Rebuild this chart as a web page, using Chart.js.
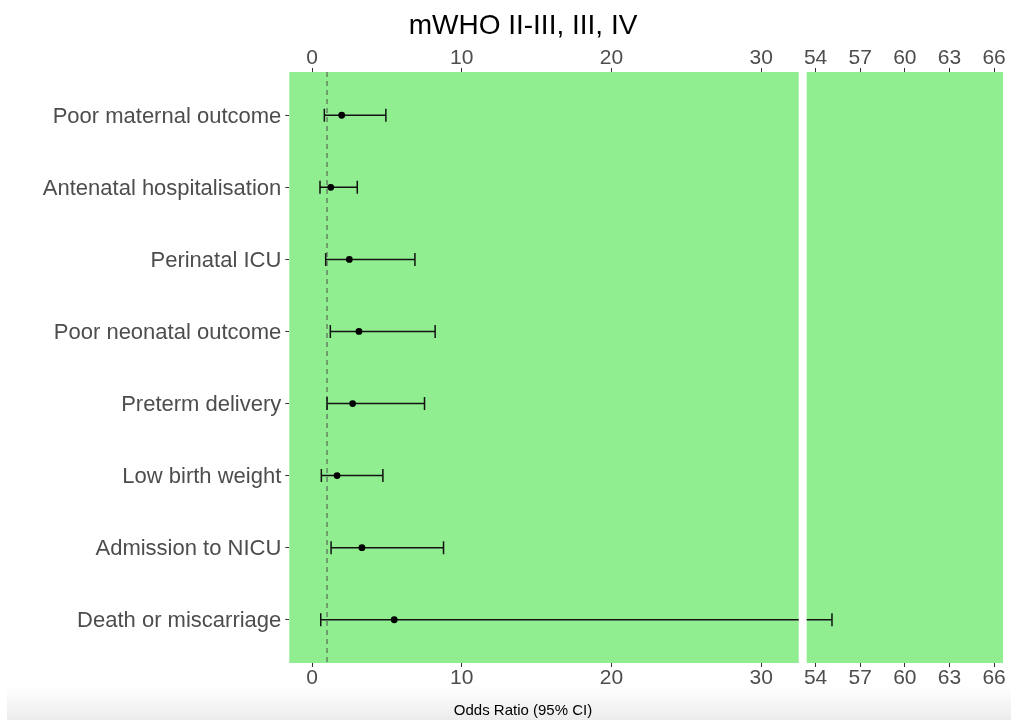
<!DOCTYPE html>
<html>
<head>
<meta charset="utf-8">
<script src="https://cdn.jsdelivr.net/npm/chart.js@4.4.1/dist/chart.umd.min.js"></script>
<style>
html,body{margin:0;padding:0;background:#fff;overflow:hidden;width:1011px;height:720px}
#wrap{position:relative;width:1011px;height:720px;overflow:hidden}
#lbox{position:absolute;left:0;top:0;width:1046px;height:720px}
#rbox{position:absolute;left:790px;top:0;width:221px;height:720px;z-index:2}
</style>
</head>
<body>
<div id="wrap">
<div id="lbox"><canvas id="left" width="1046" height="720"></canvas></div>
<div id="rbox"><canvas id="right" width="221" height="720"></canvas></div>
</div>
<script>
// ---- data ----
const categories = [
  "Poor maternal outcome",
  "Antenatal hospitalisation",
  "Perinatal ICU",
  "Poor neonatal outcome",
  "Preterm delivery",
  "Low birth weight",
  "Admission to NICU",
  "Death or miscarriage"
];
const oddsRatio = [1.98, 1.25, 2.49, 3.13, 2.71, 1.67, 3.33, 5.49];
const ciLower   = [0.82, 0.53, 0.91, 1.22, 1.00, 0.62, 1.27, 0.58];
const ciUpper   = [4.93, 3.02, 6.87, 8.22, 7.51, 4.73, 8.78, 55.1];
const refValue  = 1;
const leftTicks  = [0, 10, 20, 30];
const rightTicks = [54, 57, 60, 63, 66];
const leftRange  = [-1.52, 32.5];
const rightRange = [53.4, 66.6];
const yRange     = [-0.6, 7.6];
const titleText  = "mWHO II-III, III, IV";
const xTitleText = "Odds Ratio (95% CI)";

Chart.defaults.font.family = "'Liberation Sans', Arial, Helvetica, sans-serif";

function buildDatasets() {
  const ds = [];
  ds.push({
    type: 'line', xAxisID: 'x', yAxisID: 'y', order: 4,
    data: [{x: refValue, y: yRange[0]}, {x: refValue, y: yRange[1]}],
    borderColor: '#4d4d4d', borderWidth: 1, borderDash: [5, 4],
    pointRadius: 0, fill: false
  });
  categories.forEach((c, i) => {
    ds.push({
      type: 'line', xAxisID: 'x', yAxisID: 'y', order: 3,
      data: [{x: ciLower[i], y: i}, {x: ciUpper[i], y: i}],
      borderColor: '#111111', borderWidth: 1.5, pointRadius: 0, fill: false
    });
  });
  const caps = [];
  categories.forEach((c, i) => { caps.push({x: ciLower[i], y: i}); caps.push({x: ciUpper[i], y: i}); });
  ds.push({
    type: 'scatter', xAxisID: 'x', yAxisID: 'y', order: 2,
    data: caps,
    pointStyle: 'line', pointRotation: 90,
    pointRadius: 6.5,
    pointBorderColor: '#111111', borderColor: '#111111',
    pointBorderWidth: 1.5, borderWidth: 1.5, showLine: false
  });
  ds.push({
    type: 'scatter', xAxisID: 'x', yAxisID: 'y', order: 1,
    data: categories.map((c, i) => ({x: oddsRatio[i], y: i})),
    pointStyle: 'circle', pointRadius: 3.4,
    pointBackgroundColor: '#000000', backgroundColor: '#000000',
    pointBorderWidth: 0, borderWidth: 0, showLine: false
  });
  return ds;
}

function xAxis(pos, range, ticksArr, height, pad) {
  return {
    type: 'linear', position: pos, min: range[0], max: range[1],
    afterBuildTicks: s => { s.ticks = ticksArr.map(v => ({value: v})); },
    afterFit: s => { s.height = height; },
    ticks: { autoSkip: false, maxRotation: 0, minRotation: 0, padding: pad, color: '#4d4d4d', font: {size: 21} },
    grid: { display: true, drawOnChartArea: false, drawTicks: true, tickLength: 4, color: '#333333', lineWidth: 1 },
    border: { display: false }
  };
}

function yAxis(show) {
  return {
    type: 'linear', display: show, reverse: true, min: yRange[0], max: yRange[1],
    afterBuildTicks: s => { s.ticks = categories.map((c, i) => ({value: i})); },
    afterFit: s => { s.width = show ? 289.3 : 0; },
    ticks: { autoSkip: false, padding: 4, labelOffset: 1.5, color: '#4d4d4d', font: {size: 22}, callback: v => categories[v] },
    grid: { display: true, drawOnChartArea: false, drawTicks: true, tickLength: 4, color: '#333333', lineWidth: 1 },
    border: { display: false }
  };
}

function spacerAxis(width) {
  return {
    type: 'linear', position: 'right', display: true, min: 0, max: 1,
    afterBuildTicks: s => { s.ticks = []; },
    afterFit: s => { s.width = width; },
    ticks: { display: false },
    grid: { display: false },
    border: { display: false }
  };
}

const bgPlugin = {
  id: 'panelBg',
  beforeDraw(chart, args, opts) {
    const {ctx, chartArea: a} = chart;
    ctx.save();
    if (opts.gradient) {
      const g = ctx.createLinearGradient(0, 686, 0, 720);
      g.addColorStop(0, '#ffffff');
      g.addColorStop(1, '#ececec');
      ctx.fillStyle = g;
      ctx.fillRect(7, 686, chart.width - 7, 34);
    }
    ctx.fillStyle = '#90EE90';
    ctx.fillRect(a.left, a.top, a.right - a.left, a.bottom - a.top);
    ctx.restore();
  }
};

const TITLE_BOX = 42.6;   // title padding top 9 + 28*1.2
const SUB_BOX = 18;       // 15*1.2

new Chart(document.getElementById('left'), {
  data: { datasets: buildDatasets() },
  options: {
    responsive: false, animation: false, events: [],
    layout: { padding: 0 },
    scales: {
      x: xAxis('bottom', leftRange, leftTicks, 720 - SUB_BOX - 663, -1),
      xTop: xAxis('top', leftRange, leftTicks, 72 - TITLE_BOX, -3),
      y: yAxis(true),
      ySpace: spacerAxis(247.3)
    },
    plugins: {
      legend: { display: false },
      tooltip: { enabled: false },
      title: { display: true, text: titleText, color: '#000000', font: {size: 28, weight: 'normal'}, padding: {top: 9, bottom: 0} },
      subtitle: { display: true, position: 'bottom', text: xTitleText, color: '#000000', font: {size: 15, weight: 'normal'}, padding: {top: 0, bottom: 0} },
      panelBg: { gradient: true }
    }
  },
  plugins: [bgPlugin]
});

new Chart(document.getElementById('right'), {
  data: { datasets: buildDatasets() },
  options: {
    responsive: false, animation: false, events: [],
    layout: { padding: { left: 16.7, right: 6.7, top: TITLE_BOX, bottom: SUB_BOX } },
    scales: {
      x: xAxis('bottom', rightRange, rightTicks, 720 - SUB_BOX - 663, -1),
      xTop: xAxis('top', rightRange, rightTicks, 72 - TITLE_BOX, -3),
      y: yAxis(false)
    },
    plugins: {
      legend: { display: false },
      tooltip: { enabled: false },
      title: { display: false },
      subtitle: { display: false },
      panelBg: { gradient: false }
    }
  },
  plugins: [bgPlugin]
});
</script>
</body>
</html>
